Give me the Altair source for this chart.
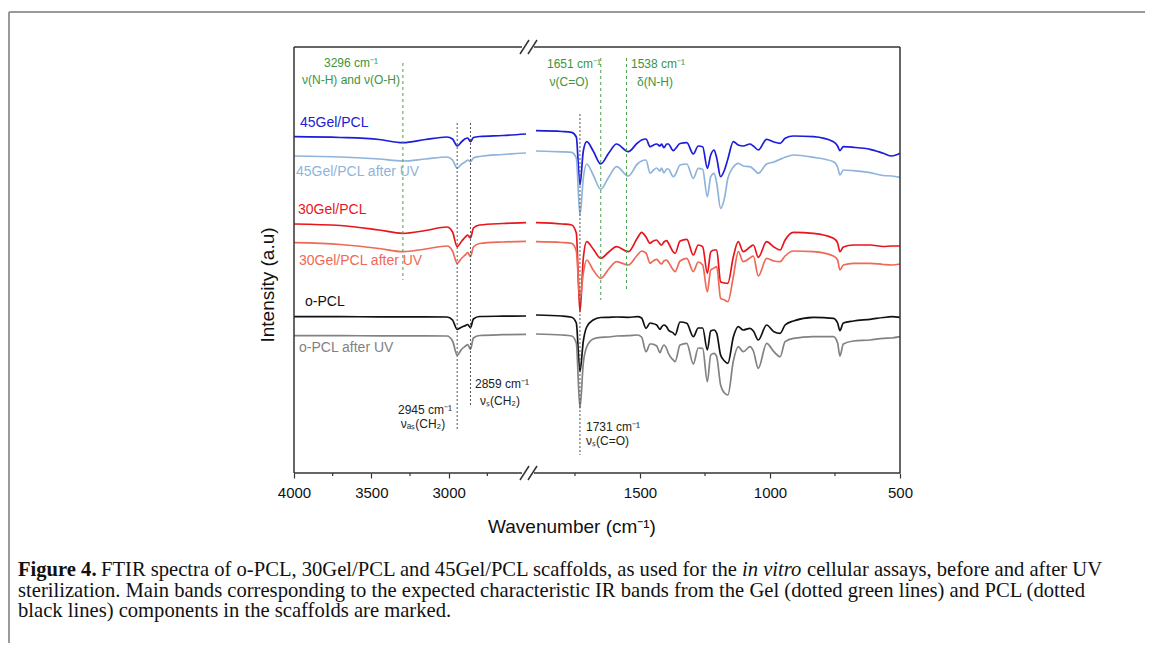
import altair as alt
import pandas as pd

# ---------------- data ----------------
series_names = ["45Gel/PCL", "45Gel/PCL after UV", "30Gel/PCL", "30Gel/PCL after UV", "o-PCL", "o-PCL after UV"]
series_colors = ["#1c1cdc", "#8fb4dc", "#e8161c", "#ec6a56", "#111111", "#828282"]

wn_left = [4000, 3700, 3450, 3296, 3150, 3011, 2975, 2945, 2915, 2890, 2877, 2859, 2840, 2800, 2650, 2500]
left_blue = [336.3, 335.5, 333.5, 330.3, 333.5, 336, 334, 327, 331.5, 334.5, 335, 331.3, 335.5, 336.5, 337.5, 339]
left_lblue = [317, 316, 314, 312, 314, 316, 313, 305, 309, 311.5, 313, 311.3, 315, 316.5, 318.5, 320]
left_red = [249, 247.5, 243, 239.7, 242.5, 246, 241, 226.3, 232, 236.3, 238, 235, 245, 248, 249.5, 250.3]
left_salmon = [230.3, 228.5, 224.5, 221.3, 224, 227, 222, 209.7, 215, 218.5, 220.3, 216.3, 226, 229.5, 231, 231.7]
left_black = [156.3, 156.3, 156.2, 156.2, 156.2, 156, 153, 143.7, 146, 147.5, 148.5, 145.3, 154, 156.5, 156.8, 157]
left_gray = [137.3, 137.3, 137.2, 137.2, 137.2, 137, 132, 118, 124, 127, 128.5, 123.7, 135, 137.5, 138.3, 138.7]

wn_right = [1900, 1800, 1763, 1745, 1731, 1718, 1705, 1680, 1651, 1620, 1590, 1545, 1510, 1494, 1477,
            1461, 1455, 1436, 1423, 1417, 1408, 1397, 1391, 1372, 1365, 1346, 1320, 1295, 1276, 1259,
            1241, 1228, 1215, 1205, 1190, 1175, 1162, 1141, 1122, 1103, 1077, 1064, 1045, 1013, 985,
            961, 942, 910, 833, 756, 740, 731, 718, 679, 615, 564, 532, 500]
right_blue = [342.3, 341.5, 340.7, 336, 288, 322, 331.3, 322, 309, 320, 329, 321.3, 330, 333, 334,
              326.3, 327, 329, 327, 329, 325.3, 329, 329, 322.3, 324, 329.5, 330.3, 319, 327, 326.3,
              304.7, 318, 323, 315, 296.3, 303, 314, 331.3, 328, 327, 329, 327, 323, 333.7, 331,
              329.7, 334.7, 337, 336.3, 331.3, 327, 322.3, 326.3, 325.7, 323.7, 319.7, 317, 319.7]
right_lblue = [322, 321.2, 320.7, 315, 258, 295, 309, 298, 283.7, 296, 306.3, 297, 309, 312, 313,
               299.7, 301, 305, 302, 305, 300, 304, 304, 296.3, 298, 308, 309, 294.7, 304.7, 303.7,
               276.3, 296.3, 299.7, 290, 264.7, 275, 294.7, 306, 309.7, 307, 306.3, 304, 299.7, 309, 311,
               313.7, 315.7, 318, 315.7, 311.3, 306, 298, 303, 302.3, 300.3, 297.5, 297, 295.7]
right_red = [250.3, 249, 248, 240, 161, 215, 231.3, 224, 214.7, 221, 226.3, 221.3, 235, 240.7, 236,
             229.7, 231, 233, 229, 228, 231, 232.3, 230, 221, 219.7, 232, 233.7, 218, 228, 226.3,
             199.7, 221, 223, 223, 191.3, 190, 189.7, 216.3, 231.3, 221.3, 226, 228, 215.7, 231.3, 226,
             223, 233, 240.7, 239.7, 234.7, 230, 221.3, 226, 228, 228, 226.5, 227, 227]
right_salmon = [231.3, 230.5, 229.7, 222, 173, 200, 213, 203, 194.7, 204, 211.3, 208, 218, 222, 220,
                209.7, 211, 213.7, 210, 209, 212, 213, 211, 203, 201.3, 212, 214.7, 201.3, 211, 208,
                181.3, 203, 205, 206.3, 174.7, 173, 171.3, 196.3, 221.3, 211.3, 215, 217, 197, 214.7, 212,
                211.3, 217, 222, 221.3, 217, 213, 203, 208, 209.7, 209.7, 208.5, 208, 209]
right_black = [158, 157, 155.7, 150, 101.3, 132, 146, 153, 155.5, 155.7, 156, 155.7, 156.3, 155, 144.7,
               150, 149.7, 148, 143.7, 146, 148, 146, 143, 140, 138, 151, 149.7, 136.3, 145, 145,
               123, 142, 143, 139.7, 118, 112, 109.7, 136, 146.3, 143, 144.7, 142, 133, 148, 141.3,
               139.7, 148, 152, 155.7, 154.7, 150, 142.3, 150, 152, 153.7, 155.5, 156.3, 155.7]
right_gray = [139, 138, 137, 130, 65, 110, 126, 134, 135.7, 136, 137, 137.3, 138, 136, 121.3,
              129, 129, 127, 120.3, 124, 128, 124, 119.7, 113, 111.3, 128, 129.7, 109, 125, 124.7,
              91.3, 118, 119.7, 116.3, 88, 80, 78, 112, 126.3, 121.3, 126.3, 122, 104.7, 129.7, 121.3,
              116.3, 131.3, 134.7, 136.3, 136.3, 130, 117, 129, 132, 133, 134.7, 135, 136.3]

left_values = [left_blue, left_lblue, left_red, left_salmon, left_black, left_gray]
right_values = [right_blue, right_lblue, right_red, right_salmon, right_black, right_gray]

# band markers
gel_bands = [3296, 1651, 1552]
gel_top = [410, 415, 415]
gel_bottom = [193, 173, 184]
pcl_bands = [2945, 2859, 1731]
pcl_top = [350, 350, 359]
pcl_bottom = [43, 66, 18]

major_ticks = [4000, 3500, 3000, 1500, 1000, 500]
minor_ticks = [3750, 3250, 2750, 1750, 1250, 750]

# ---------------- tables ----------------
rows = []
for name, lv, rv in zip(series_names, left_values, right_values):
    for w, v in zip(wn_left, lv):
        rows.append({"series": name, "seg": name + "|L", "wn": w, "I": v})
    for w, v in zip(wn_right, rv):
        rows.append({"series": name, "seg": name + "|R", "wn": w, "I": v})
spectra = pd.DataFrame(rows)

gel_df = pd.DataFrame({"wn": gel_bands, "top": gel_top, "bottom": gel_bottom})
pcl_df = pd.DataFrame({"wn": pcl_bands, "top": pcl_top, "bottom": pcl_bottom})
minor_df = pd.DataFrame({"wn": minor_ticks})
one = pd.DataFrame({"a": [0]})

W, H = 606, 426
SANS = "Liberation Sans"
SERIF = "Liberation Serif"

xscale = alt.Scale(domain=[4000, 2500, 1900, 500], range=[0, 232, 242, 606], nice=False, zero=False)
yscale = alt.Scale(domain=[0, 426], nice=False, zero=False)

x_axis = alt.Axis(values=major_ticks, format="d", domain=False, grid=False, tickSize=5, tickWidth=1.2,
                  tickColor="#333333", labelFont=SANS, labelFontSize=15, labelColor="#111111",
                  labelPadding=7, labelFlush=False, labelOverlap=False, labelBound=False, title=None)

lines = alt.Chart(spectra).mark_line(strokeWidth=1.7, interpolate="monotone").encode(
    x=alt.X("wn:Q", scale=xscale, axis=x_axis),
    y=alt.Y("I:Q", scale=yscale, axis=None),
    color=alt.Color("series:N", scale=alt.Scale(domain=series_names, range=series_colors), legend=None),
    detail="seg:N",
    order=alt.Order("wn:Q", sort="descending"),
)

gel_rules = alt.Chart(gel_df).mark_rule(color="#4f9f4f", strokeWidth=1, strokeDash=[3, 3]).encode(
    x=alt.X("wn:Q", scale=xscale), y=alt.Y("top:Q", scale=yscale), y2="bottom:Q")
pcl_rules = alt.Chart(pcl_df).mark_rule(color="#555555", strokeWidth=1, strokeDash=[2, 2]).encode(
    x=alt.X("wn:Q", scale=xscale), y=alt.Y("top:Q", scale=yscale), y2="bottom:Q")
minor = alt.Chart(minor_df).mark_rule(color="#333333", strokeWidth=1.2).encode(
    x=alt.X("wn:Q", scale=xscale), y=alt.value(H), y2=alt.value(H + 3))


def seg(x1, y1, x2, y2, color="#333333", w=1.5):
    return alt.Chart(one).mark_rule(color=color, strokeWidth=w).encode(
        x=alt.value(x1), y=alt.value(y1), x2=alt.value(x2), y2=alt.value(y2))


frame = [
    seg(0, 0, 0, H), seg(W, 0, W, H),
    seg(0, 0, 228, 0), seg(240, 0, W, 0),
    seg(0, H, 228, H), seg(240, H, W, H),
    seg(226, 7, 235, -7), seg(234, 7, 243, -7),
    seg(226, H + 7, 235, H - 7), seg(234, H + 7, 243, H - 7),
    # outer figure frame
    seg(-285, -35, -285, 700, color="#9a9a9a", w=2), seg(-285, -35, 900, -35, color="#9a9a9a", w=2),
]


def txt(s, x, y, color="#111111", size=14, align="left", font=SANS, weight="normal", style="normal",
        angle=0):
    return alt.Chart(one).mark_text(align=align, baseline="middle", font=font, fontSize=size,
                                    fontWeight=weight, fontStyle=style, color=color, angle=angle).encode(
        x=alt.value(x), y=alt.value(y), text=alt.value(s))


GREEN = "#3d943d"
CAP = 20.6
texts = [
    txt("45Gel/PCL", 6, 76, "#2020d0"),
    txt("45Gel/PCL after UV", 2, 125, "#8fb4dc"),
    txt("30Gel/PCL", 4, 163, "#e8161c"),
    txt("30Gel/PCL after UV", 5, 214, "#ec6a56"),
    txt("o-PCL", 11, 255, "#111111"),
    txt("o-PCL after UV", 5, 301, "#828282"),
    txt("3296 cm\u207b\u00b9", 57, 16, GREEN, 12, "center"),
    txt("\u03bd(N-H) and \u03bd(O-H)", 57, 33, GREEN, 12, "center"),
    txt("1651 cm\u207b\u00b9", 280, 17, GREEN, 12, "center"),
    txt("\u03bd(C=O)", 275, 35, GREEN, 12, "center"),
    txt("1538 cm\u207b\u00b9", 364, 17, GREEN, 12, "center"),
    txt("\u03b4(N-H)", 361, 35, GREEN, 12, "center"),
    txt("2859 cm\u207b\u00b9", 208, 337, "#222222", 12, "center"),
    txt("\u03bd\u209b(CH\u2082)", 206, 354, "#222222", 12, "center"),
    txt("2945 cm\u207b\u00b9", 131, 363, "#222222", 12, "center"),
    txt("\u03bd\u2090\u209b(CH\u2082)", 129, 377, "#222222", 12, "center"),
    txt("1731 cm\u207b\u00b9", 292, 380, "#222222", 12, "left"),
    txt("\u03bd\u209b(C=O)", 292, 394, "#222222", 12, "left"),
    txt("Intensity (a.u)", -26, 238, "#111111", 19, "center", angle=270),
    txt("Wavenumber (cm\u207b\u00b9)", 278, 480, "#111111", 19, "center"),
    # caption
    txt("Figure 4.", -276, 523, "#111111", CAP, "left", SERIF, "bold"),
    txt("FTIR spectra of o-PCL, 30Gel/PCL and 45Gel/PCL scaffolds, as used for the", -193, 523,
        "#111111", CAP, "left", SERIF),
    txt("in vitro", 448, 523, "#111111", CAP, "left", SERIF, style="italic"),
    txt("cellular assays, before and after UV", 513, 523, "#111111", CAP, "left", SERIF),
    txt("sterilization. Main bands corresponding to the expected characteristic IR bands from the Gel "
        "(dotted green lines) and PCL (dotted", -276, 544, "#111111", CAP, "left", SERIF),
    txt("black lines) components in the scaffolds are marked.", -276, 564, "#111111", CAP, "left", SERIF),
]

chart = alt.layer(lines, gel_rules, pcl_rules, minor, *frame, *texts).properties(
    width=W, height=H,
    autosize=alt.AutoSizeParams(type="none"),
    padding={"left": 286, "top": 39, "right": 245, "bottom": 170},
    background="white",
).configure_view(stroke="transparent")

chart.save("out.html", embed_options={"renderer": "svg", "actions": False})
